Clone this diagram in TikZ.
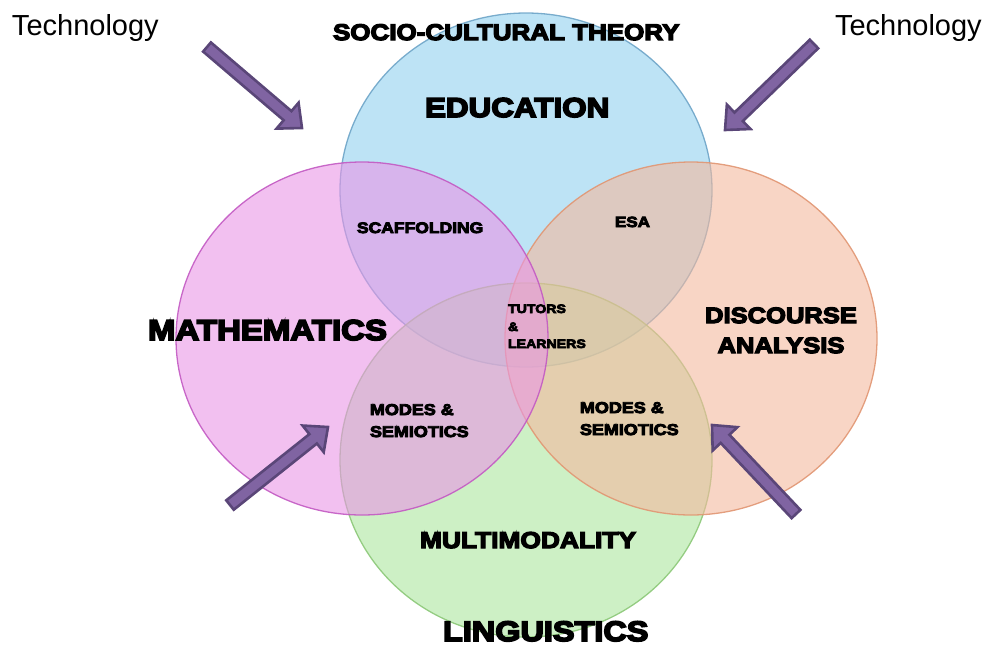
\documentclass[tikz,border=0pt]{standalone}
\usepackage{fontspec}
\setmainfont{Liberation Sans}
\newfontfamily\hvb[FakeStretch=1.15,FakeBold=6]{Liberation Sans Bold}
\usetikzlibrary{calc}
\definecolor{bluefill}{rgb}{0.569,0.817,0.935}
\definecolor{pinkfill}{rgb}{0.915,0.588,0.902}
\definecolor{orangefill}{rgb}{0.955,0.725,0.621}
\definecolor{greenfill}{rgb}{0.673,0.902,0.621}
\definecolor{blueedge}{RGB}{110,165,200}
\definecolor{pinkedge}{RGB}{195,90,195}
\definecolor{orangeedge}{RGB}{225,150,115}
\definecolor{greenedge}{RGB}{140,200,120}
\definecolor{arrowfill}{RGB}{128,100,162}
\definecolor{arrowedge}{RGB}{90,70,120}
\tikzset{
  venn/.style={line width=1.3pt, fill opacity=0.6, draw opacity=0.9},
  lbl/.style={inner sep=0pt, outer sep=0pt, anchor=base west, text=black},
  lblc/.style={inner sep=0pt, outer sep=0pt, anchor=base, text=black},
  blockarrow/.style={fill=arrowfill, draw=arrowedge, line width=2.6pt, line join=miter},
}
\newcommand\fs[1]{\fontsize{#1}{#1}\selectfont}
\begin{document}
\begin{tikzpicture}[x=1pt,y=-1pt]
\useasboundingbox (0,0) rectangle (992,646);
% circles
\path[venn, fill=bluefill, draw=blueedge] (526,190) ellipse [x radius=186, y radius=177];
\path[venn, fill=greenfill, draw=greenedge] (526,460) ellipse [x radius=186, y radius=177];
\path[venn, fill=orangefill, draw=orangeedge] (691,338.5) ellipse [x radius=186, y radius=176.5];
\path[venn, fill=pinkfill, draw=pinkedge] (362,338.5) ellipse [x radius=186, y radius=176.5];
% arrows
\coordinate (t1) at (207,47);  \coordinate (h1) at (302,128);
\coordinate (t2) at (814,44);  \coordinate (h2) at (725,130);
\coordinate (t3) at (230,505); \coordinate (h3) at (328,427);
\coordinate (t4) at (796,514); \coordinate (h4) at (712,425);
\foreach \i in {1,2,3,4}{
  \coordinate (b\i) at ($(h\i)!19pt!(t\i)$);
  \draw[blockarrow] ($(t\i)!6pt!90:(h\i)$) -- ($(b\i)!6pt!-90:(t\i)$) -- ($(b\i)!17pt!-90:(t\i)$) -- (h\i)
     -- ($(b\i)!17pt!90:(t\i)$) -- ($(b\i)!6pt!90:(t\i)$) -- ($(t\i)!6pt!-90:(h\i)$) -- cycle;
}
% labels
\node[lbl, font=\fs{29}] (techL) at (12,35) {Technology};
\node[lbl, font=\fs{29}] (techR) at (835,35) {Technology};
\node[lbl, font=\hvb\fs{22.6}] (socio) at (333,40) {SOCIO-CULTURAL THEORY};
\node[lbl, font=\hvb\fs{27.3}] (edu) at (425,117) {EDUCATION};
\node[lbl, font=\hvb\fs{15.2}] (scaf) at (357,233) {SCAFFOLDING};
\node[lbl, font=\hvb\fs{14.8}] (esa) at (615,227) {ESA};
\node[lbl, font=\hvb\fs{28.7}] (math) at (148,340) {MATHEMATICS};
\node[lbl, font=\hvb\fs{12.3}] (tut1) at (508,313) {TUTORS};
\node[lbl, font=\hvb\fs{12.3}] (tut2) at (508,331) {\&};
\node[lbl, font=\hvb\fs{12.3}] (tut3) at (508,348) {LEARNERS};
\node[lblc, font=\hvb\fs{22.2}] (disc1) at (781,323) {DISCOURSE};
\node[lblc, font=\hvb\fs{22.2}] (disc2) at (781,353) {ANALYSIS};
\node[lbl, font=\hvb\fs{15.6}] (modL1) at (370,415) {MODES \&};
\node[lbl, font=\hvb\fs{15.6}] (modL2) at (370,437) {SEMIOTICS};
\node[lbl, font=\hvb\fs{15.6}] (modR1) at (580,413) {MODES \&};
\node[lbl, font=\hvb\fs{15.6}] (modR2) at (580,435) {SEMIOTICS};
\node[lbl, font=\hvb\fs{22.9}] (multi) at (420,548) {MULTIMODALITY};
\node[lbl, font=\hvb\fs{28.2}] (ling) at (443,641) {LINGUISTICS};
\end{tikzpicture}
\end{document}
